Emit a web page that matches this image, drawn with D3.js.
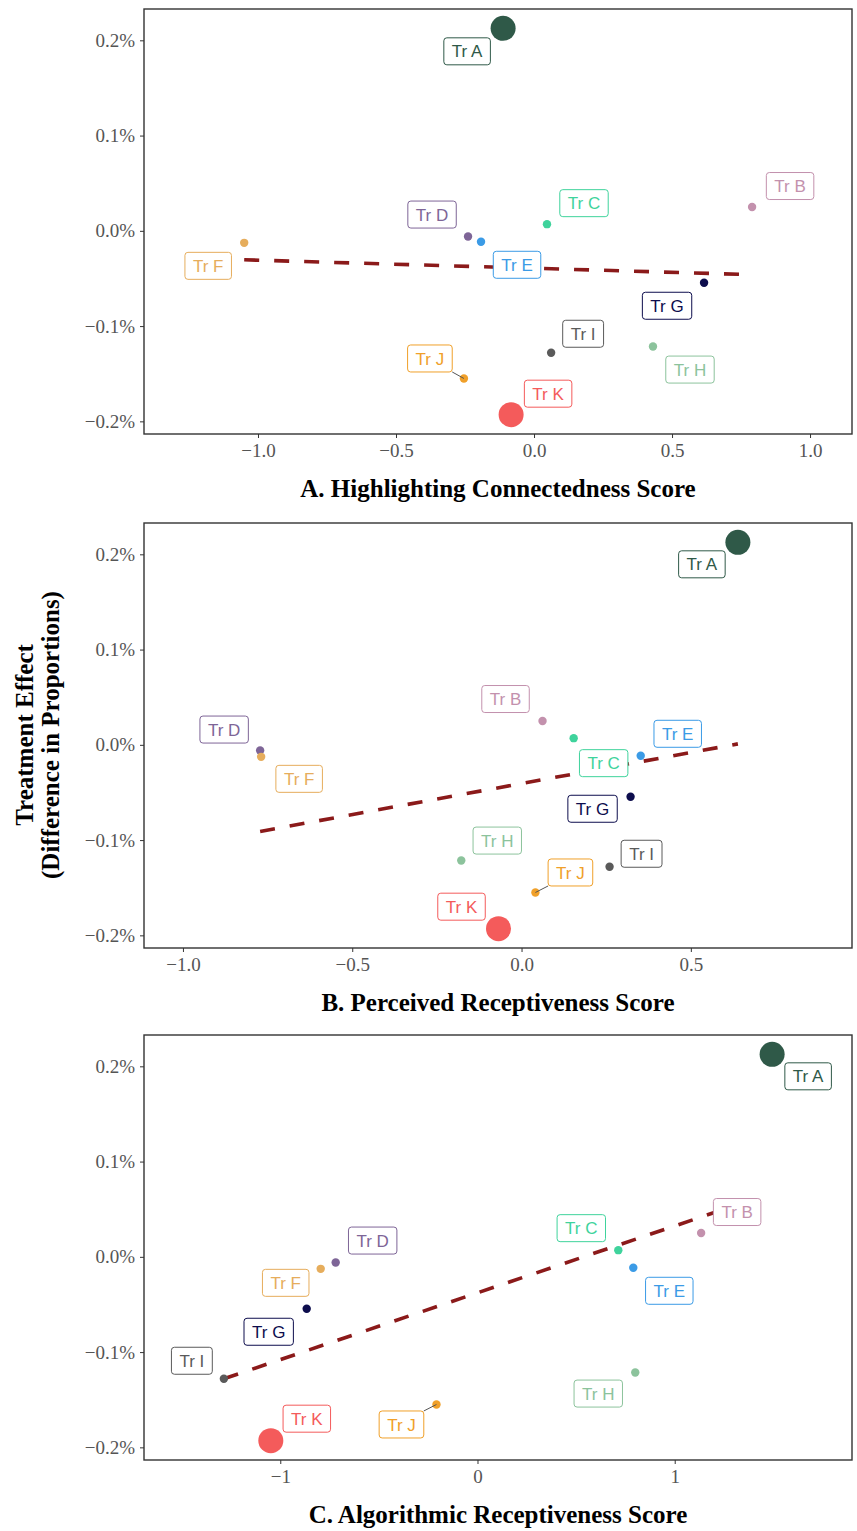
<!DOCTYPE html>
<html>
<head>
<meta charset="utf-8">
<script src="https://cdn.jsdelivr.net/npm/d3@7"></script>
<style>
  body { margin: 0; background: #fff; }
  svg { display: block; }
</style>
</head>
<body>
<svg id="chart"></svg>
<script>
// treatments and their colours
const treatments = ['Tr A', 'Tr B', 'Tr C', 'Tr D', 'Tr E', 'Tr F', 'Tr G', 'Tr H', 'Tr I', 'Tr J', 'Tr K'];
const colors = ['#2f5948', '#c391ad', '#3fd39c', '#7e6597', '#3b9be6', '#e6ad5c', '#0d0d4d', '#8cc39c', '#5a5a5a', '#f0a02a', '#f45b5b'];
const bigPoint = [true, false, false, false, false, false, false, false, false, false, true];

// treatment effect (difference in proportions), same for all panels
const effect = [0.002126, 0.00025, 0.00007, -0.00006, -0.000115, -0.000126, -0.000545, -0.001215, -0.00128, -0.00155, -0.00193];

// scores
const connectedness = [-0.112, 0.79, 0.047, -0.239, -0.192, -1.05, 0.616, 0.431, 0.062, -0.254, -0.083];
const perceived = [0.639, 0.062, 0.154, -0.772, 0.352, -0.769, 0.322, -0.178, 0.26, 0.041, -0.068];
const algorithmic = [1.494, 1.134, 0.714, -0.719, 0.79, -0.795, -0.866, 0.80, -1.286, -0.208, -1.048];

// fitted lines (ends)
const fitConnectedX = [-1.05, 0.79], fitConnectedY = [-0.000304, -0.00046];
const fitPerceivedX = [-0.772, 0.639], fitPerceivedY = [-0.000909, 0.00001];
const fitAlgorithmicX = [-1.286, 1.443], fitAlgorithmicY = [-0.00128, 0.000635];

// ticks
const yTicks = [-0.002, -0.001, 0, 0.001, 0.002];
const xTicksA = [-1, -0.5, 0, 0.5, 1];
const xTicksB = [-1, -0.5, 0, 0.5];
const xTicksC = [-1, 0, 1];

const titles = ['A. Highlighting Connectedness Score', 'B. Perceived Receptiveness Score', 'C. Algorithmic Receptiveness Score'];

// label placement (pixel offsets of label centre from point), like ggrepel output
const offsetsA = [[-36, 23], [38, -21], [37, -21], [-36, -22], [36, 23], [-36, 23], [-37, 23], [37, 23], [32, -19], [-34, -20], [37, -21]];
const offsetsB = [[-36, 22], [-37, -22], [30, 25], [-36, -21], [37, -22], [38, 22], [-38, 12], [36, -20], [32, -13], [35, -20], [-37, -22]];
const offsetsC = [[36, 22], [36, -21], [-37, -22], [37, -22], [36, 23], [-35, 14], [-38, 23], [-37, 21], [-32, -18], [-35, 20], [36, -22]];
const withSegment = ['Tr J'];

const width = 857, height = 1531;
const left = 144, right = 852, panelH = 425;

const svg = d3.select('#chart').attr('width', width).attr('height', height);

const serif = "'Liberation Serif', 'Times New Roman', serif";
const sans = "'Liberation Sans', Arial, sans-serif";

// y domain: data range + 5% like ggplot
const yExt = d3.extent(effect);
const yPad = (yExt[1] - yExt[0]) * 0.05;

const panels = [
  { top: 9, xs: connectedness, domain: [-1.413, 1.152], ticks: xTicksA, fmt: d3.format('.1f'), fitX: fitConnectedX, fitY: fitConnectedY, offs: offsetsA },
  { top: 523, xs: perceived, domain: [-1.115, 0.976], ticks: xTicksB, fmt: d3.format('.1f'), fitX: fitPerceivedX, fitY: fitPerceivedY, offs: offsetsB },
  { top: 1035, xs: algorithmic, domain: [-1.691, 1.899], ticks: xTicksC, fmt: d3.format('d'), fitX: fitAlgorithmicX, fitY: fitAlgorithmicY, offs: offsetsC }
];

panels.forEach((p, pi) => {
  const x = d3.scaleLinear().domain(p.domain).range([left, right]);
  const y = d3.scaleLinear().domain([yExt[0] - yPad, yExt[1] + yPad]).range([p.top + panelH, p.top]);
  const g = svg.append('g');

  // axes
  const yAxis = g.append('g')
    .attr('transform', `translate(${left},0)`)
    .call(d3.axisLeft(y).tickValues(yTicks).tickFormat(d3.format('.1%')).tickSize(4).tickPadding(5));
  const xAxis = g.append('g')
    .attr('transform', `translate(0,${p.top + panelH})`)
    .call(d3.axisBottom(x).tickValues(p.ticks).tickFormat(p.fmt).tickSize(4).tickPadding(6));
  [yAxis, xAxis].forEach(a => {
    a.select('.domain').remove();
    a.selectAll('line').attr('stroke', '#333');
    a.selectAll('text').attr('fill', '#555').style('font-family', serif).style('font-size', '19px');
  });

  // panel border
  g.append('rect')
    .attr('x', left).attr('y', p.top)
    .attr('width', right - left).attr('height', panelH)
    .attr('fill', 'none').attr('stroke', '#333').attr('stroke-width', 1.4);

  // fitted line
  g.append('line')
    .attr('x1', x(p.fitX[0])).attr('y1', y(p.fitY[0]))
    .attr('x2', x(p.fitX[1])).attr('y2', y(p.fitY[1]))
    .attr('stroke', '#8b1a1a').attr('stroke-width', 3.6)
    .attr('stroke-dasharray', '15,15');

  const pts = treatments.map((t, i) => ({
    name: t, color: colors[i], big: bigPoint[i],
    px: x(p.xs[i]), py: y(effect[i]),
    lx: x(p.xs[i]) + p.offs[i][0], ly: y(effect[i]) + p.offs[i][1]
  }));

  // points
  g.selectAll('circle.pt').data(pts).join('circle')
    .attr('class', 'pt')
    .attr('cx', d => d.px).attr('cy', d => d.py)
    .attr('r', d => d.big ? 12.5 : 4.2)
    .attr('fill', d => d.color);

  // labels
  const lab = g.selectAll('g.lab').data(pts).join('g').attr('class', 'lab');
  lab.each(function (d) {
    const el = d3.select(this);
    const txt = el.append('text')
      .attr('x', d.lx).attr('y', d.ly)
      .attr('text-anchor', 'middle').attr('dy', '0.36em')
      .attr('fill', d.color)
      .style('font-family', sans).style('font-size', '17px')
      .text(d.name);
    const w = txt.node().getComputedTextLength() + 16, h = 27;
    if (withSegment.includes(d.name)) {
      // segment from point to nearest box edge
      const bx = Math.max(d.lx - w / 2, Math.min(d.px, d.lx + w / 2));
      const by = Math.max(d.ly - h / 2, Math.min(d.py, d.ly + h / 2));
      el.insert('line', 'text')
        .attr('x1', d.px).attr('y1', d.py).attr('x2', bx).attr('y2', by)
        .attr('stroke', '#555').attr('stroke-width', 1);
    }
    el.insert('rect', 'text')
      .attr('x', d.lx - w / 2).attr('y', d.ly - h / 2)
      .attr('width', w).attr('height', h)
      .attr('rx', 3).attr('ry', 3)
      .attr('fill', '#fff').attr('stroke', d.color).attr('stroke-width', 1);
  });

  // x title
  g.append('text')
    .attr('x', (left + right) / 2).attr('y', p.top + panelH + 63)
    .attr('text-anchor', 'middle')
    .style('font-family', serif).style('font-size', '25px').style('font-weight', 'bold')
    .text(titles[pi]);
});

// y title
const yt = svg.append('text')
  .attr('transform', 'translate(0,735) rotate(-90)')
  .attr('text-anchor', 'middle')
  .style('font-family', serif).style('font-size', '25px').style('font-weight', 'bold');
yt.append('tspan').attr('x', 0).attr('y', 33).text('Treatment Effect');
yt.append('tspan').attr('x', 0).attr('y', 59).text('(Difference in Proportions)');
</script>
</body>
</html>
